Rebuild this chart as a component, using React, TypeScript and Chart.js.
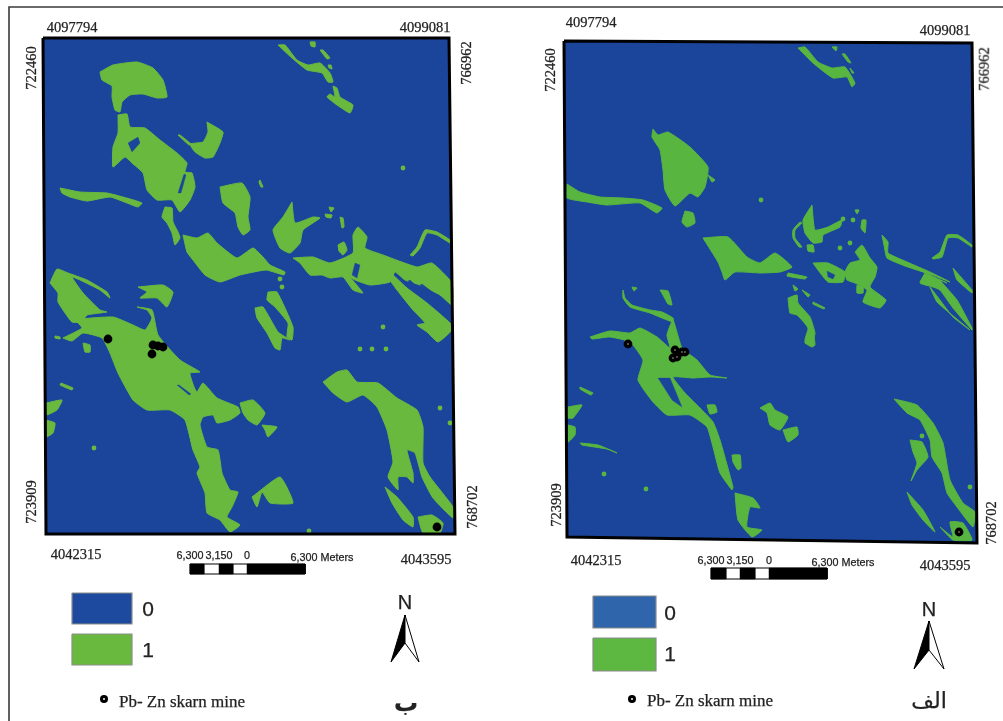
import React, { useEffect, useRef } from "react";
import { Chart, registerables } from "chart.js";

Chart.register(...registerables);

type P = [number, number];

const BLUE = "#1b459b";
const GREEN = "#6ab93f";
const GREEN_R = "#58b540";

const pageBorder: P[] = [[1003, 7], [9, 7], [9, 721]];

const leftFrame: P[] = [[43, 38], [449, 38], [455, 534], [46, 534]];
const rightFrame: P[] = [[564, 41], [972, 43], [977, 543], [567, 537]];

const leftLand: P[][] = [
  [[100, 72], [113, 65], [137, 62], [153, 68], [163, 80], [167, 97], [157, 98], [143, 94], [130, 95], [122, 102], [120, 112], [115, 110], [112, 97], [112, 86], [102, 80]],
  [[118, 115], [127, 114], [130, 127], [145, 128], [160, 140], [177, 153], [187, 163], [185, 172], [192, 173], [195, 187], [190, 200], [180, 212], [172, 200], [157, 200], [147, 190], [143, 173], [132, 163], [125, 157], [113, 167], [113, 147], [118, 133]],
  [[207, 122], [223, 132], [220, 143], [213, 157], [205, 158], [195, 152], [190, 144], [203, 142], [208, 132]],
  [[178, 135], [180, 135], [191, 144], [189, 145]],
  [[60, 188], [80, 192], [107, 193], [123, 197], [142, 203], [138, 207], [127, 203], [110, 197], [87, 201], [70, 197], [62, 193]],
  [[220, 187], [242, 183], [250, 197], [248, 217], [250, 230], [243, 235], [238, 227], [235, 213], [223, 203]],
  [[260, 180], [263, 187], [261, 187], [259, 182]],
  [[165, 207], [172, 208], [173, 222], [178, 232], [180, 238], [175, 245], [172, 233], [167, 223], [162, 217]],
  [[183, 235], [197, 238], [208, 233], [217, 243], [237, 258], [253, 248], [263, 257], [270, 265], [285, 272], [284, 275], [266, 270], [240, 275], [220, 282], [205, 275], [193, 260], [187, 252]],
  [[278, 45], [285, 45], [297, 60], [308, 65], [320, 63], [330, 73], [333, 82], [328, 82], [322, 73], [307, 70], [292, 58]],
  [[310, 42], [315, 42], [315, 47], [311, 46]],
  [[320, 50], [323, 50], [330, 58], [327, 59]],
  [[328, 65], [331, 65], [332, 69], [329, 68]],
  [[333, 86], [337, 88], [340, 97], [353, 105], [350, 113], [337, 105], [327, 97], [330, 94], [335, 97]],
  [[292, 202], [295, 223], [313, 217], [320, 218], [303, 230], [300, 243], [290, 253], [280, 248], [273, 230], [283, 217]],
  [[329, 207], [334, 208], [331, 212]],
  [[325, 214], [332, 215], [331, 218], [326, 217]],
  [[340, 217], [343, 218], [344, 227], [342, 228]],
  [[338, 245], [344, 242], [347, 250], [343, 255], [339, 251]],
  [[293, 258], [313, 257], [330, 263], [353, 253], [353, 235], [358, 227], [367, 237], [365, 248], [383, 255], [417, 267], [432, 263], [452, 283], [452, 305], [440, 295], [420, 285], [405, 280], [395, 272], [390, 282], [370, 285], [355, 280], [350, 277], [363, 293], [353, 290], [343, 277], [330, 278], [322, 275], [310, 275], [300, 263]],
  [[390, 272], [407, 288], [427, 303], [450, 323], [452, 330], [438, 342], [427, 332], [417, 325], [425, 323], [413, 310], [397, 290], [388, 277]],
  [[410, 255], [417, 247], [425, 230], [437, 232], [450, 240], [450, 243], [437, 235], [427, 233], [420, 248], [413, 256]],
  [[50, 283], [57, 269], [68, 273], [87, 280], [107, 292], [110, 298], [100, 290], [80, 280], [72, 277], [83, 293], [100, 310], [107, 312], [87, 315], [82, 322], [72, 322], [58, 302], [58, 293]],
  [[63, 338], [82, 328], [76, 320], [113, 317], [133, 325], [145, 330], [152, 318], [147, 310], [137, 307], [152, 310], [158, 335], [180, 360], [200, 372], [190, 373], [194, 387], [197, 392], [203, 383], [217, 398], [238, 407], [240, 413], [230, 420], [217, 423], [213, 415], [203, 417], [200, 425], [207, 447], [218, 450], [222, 473], [230, 490], [238, 492], [232, 507], [227, 517], [240, 525], [230, 532], [220, 520], [207, 513], [205, 493], [197, 473], [200, 467], [193, 450], [185, 420], [170, 410], [147, 410], [133, 400], [118, 373], [110, 353], [102, 338], [83, 333], [72, 341]],
  [[138, 287], [163, 285], [173, 292], [167, 307], [157, 298], [140, 298], [147, 292]],
  [[240, 403], [253, 400], [265, 413], [257, 425], [248, 420], [243, 413]],
  [[262, 425], [277, 427], [268, 437], [265, 430]],
  [[46, 403], [62, 400], [57, 410], [46, 415]],
  [[46, 420], [55, 423], [53, 433], [46, 437]],
  [[61, 383], [73, 388], [72, 390], [60, 385]],
  [[83, 343], [90, 345], [90, 352], [85, 352]],
  [[55, 336], [60, 337], [60, 339], [55, 338]],
  [[255, 308], [263, 307], [278, 332], [290, 340], [282, 338], [280, 350], [275, 348], [267, 333], [257, 318]],
  [[268, 292], [277, 292], [293, 327], [292, 340], [287, 337], [288, 323], [275, 307], [267, 300]],
  [[323, 382], [337, 372], [347, 370], [357, 382], [378, 383], [397, 398], [417, 410], [423, 427], [423, 463], [430, 477], [453, 507], [453, 518], [433, 498], [422, 477], [415, 453], [407, 450], [413, 473], [413, 483], [407, 477], [398, 477], [398, 490], [388, 477], [393, 462], [387, 430], [377, 407], [363, 395], [347, 402], [333, 393]],
  [[385, 487], [397, 497], [413, 517], [413, 527], [403, 520], [392, 503]],
  [[418, 517], [432, 515], [443, 523], [440, 533], [423, 533]],
  [[252, 497], [280, 477], [293, 503], [270, 503], [262, 492], [257, 507]],
];

const leftHoles: P[][] = [
  [[128, 143], [138, 137], [140, 143], [132, 152]],
  [[184, 174], [186, 175], [181, 193], [178, 193]],
  [[177, 385], [179, 385], [191, 394], [189, 395]],
  [[408, 281], [410, 280], [451, 318], [451, 321]],
  [[420, 285], [422, 284], [451, 306], [451, 309]],
  [[355, 263], [360, 265], [357, 278], [352, 275]],
];

const leftDots: P[] = [[403, 168], [383, 327], [360, 349], [372, 349], [386, 349], [280, 279], [282, 287], [309, 531], [440, 408], [450, 423], [94, 448]];
const leftMines: P[] = [[108, 339], [153, 345], [158, 346], [163, 347], [152, 354], [437, 527]];
const rightLand: P[][] = [
  [[653, 129], [658, 135], [668, 132], [690, 147], [708, 167], [705, 187], [698, 197], [690, 193], [675, 206], [665, 190], [663, 170], [660, 150], [652, 137]],
  [[708, 175], [715, 180], [712, 182]],
  [[567, 184], [580, 192], [600, 197], [623, 198], [643, 200], [662, 208], [657, 213], [640, 203], [607, 205], [587, 202], [567, 198]],
  [[685, 211], [693, 213], [695, 223], [687, 227], [682, 222]],
  [[703, 238], [728, 237], [747, 257], [760, 263], [775, 253], [792, 267], [780, 272], [760, 273], [735, 272], [725, 280], [722, 272], [718, 262]],
  [[788, 273], [807, 277], [805, 279], [787, 276]],
  [[798, 48], [805, 47], [818, 62], [832, 68], [845, 67], [855, 83], [852, 87], [847, 77], [833, 78], [813, 63]],
  [[832, 47], [837, 47], [836, 51]],
  [[842, 54], [845, 54], [851, 63], [848, 62]],
  [[850, 68], [854, 73], [852, 73]],
  [[812, 205], [815, 230], [828, 227], [842, 220], [840, 227], [823, 235], [822, 242], [813, 243], [805, 233], [803, 220]],
  [[802, 223], [795, 230], [795, 238], [802, 247], [799, 247], [793, 238], [793, 230], [800, 222]],
  [[807, 245], [813, 245], [814, 252], [808, 251]],
  [[855, 210], [859, 210], [857, 214]],
  [[862, 220], [866, 220], [865, 233], [861, 228]],
  [[855, 252], [862, 245], [870, 258], [877, 267], [875, 277], [870, 287], [886, 300], [880, 308], [863, 302], [867, 290], [855, 283], [847, 280], [845, 272], [850, 263], [860, 260]],
  [[857, 285], [863, 287], [863, 293], [857, 293]],
  [[813, 263], [828, 263], [845, 272], [843, 282], [828, 282], [818, 270]],
  [[882, 235], [888, 242], [888, 253], [907, 262], [930, 272], [950, 282], [932, 275], [905, 266], [887, 258], [884, 245]],
  [[932, 258], [940, 252], [947, 235], [958, 235], [972, 245], [972, 247], [958, 238], [948, 238], [942, 257], [933, 259]],
  [[953, 268], [972, 290], [972, 293], [957, 280]],
  [[925, 273], [947, 283], [940, 280], [957, 300], [972, 328], [972, 330], [953, 308], [940, 290], [933, 287], [920, 283]],
  [[930, 287], [940, 300], [953, 317], [970, 330], [952, 315], [937, 302]],
  [[793, 285], [798, 289], [795, 291]],
  [[802, 290], [810, 295], [808, 297]],
  [[813, 302], [825, 308], [824, 309], [813, 304]],
  [[788, 298], [797, 295], [798, 303], [810, 317], [815, 333], [813, 340], [805, 340], [808, 328], [797, 315], [790, 313]],
  [[805, 340], [813, 333], [815, 345], [812, 347], [805, 343]],
  [[590, 337], [610, 331], [630, 333], [640, 328], [657, 337], [670, 348], [667, 335], [673, 320], [682, 348], [697, 360], [710, 375], [727, 378], [710, 377], [693, 378], [673, 377], [685, 393], [700, 408], [713, 422], [720, 440], [733, 487], [732, 490], [720, 473], [713, 447], [707, 427], [690, 415], [667, 415], [653, 402], [638, 380], [643, 360], [630, 342], [610, 337], [592, 339]],
  [[623, 290], [625, 298], [632, 305], [650, 310], [662, 312], [673, 318], [673, 322], [662, 318], [650, 313], [630, 307], [623, 298]],
  [[660, 290], [668, 291], [672, 305], [668, 304], [663, 295]],
  [[632, 287], [637, 288], [634, 291]],
  [[735, 493], [753, 498], [760, 508], [750, 507], [747, 527], [762, 530], [752, 537], [738, 520]],
  [[732, 455], [740, 455], [741, 468], [738, 470], [733, 462]],
  [[707, 405], [715, 405], [717, 412], [710, 414]],
  [[568, 407], [582, 405], [573, 418], [568, 418]],
  [[568, 425], [575, 427], [575, 435], [568, 442]],
  [[580, 387], [593, 393], [591, 395], [580, 389]],
  [[580, 443], [598, 445], [617, 453], [607, 449], [582, 445]],
  [[760, 408], [770, 403], [775, 410], [788, 417], [780, 430], [770, 425], [767, 413]],
  [[783, 430], [797, 427], [798, 435], [788, 442]],
  [[894, 399], [917, 405], [933, 423], [943, 443], [950, 480], [963, 503], [975, 512], [973, 527], [957, 507], [947, 493], [942, 473], [932, 457], [930, 440], [920, 420], [907, 413]],
  [[910, 440], [922, 442], [928, 457], [917, 470], [911, 481], [917, 463], [913, 452]],
  [[907, 492], [923, 510], [935, 532], [923, 520], [912, 505]],
  [[940, 527], [953, 537], [950, 522], [963, 523], [972, 540], [953, 540]],
];

const rightHoles: P[][] = [
  [[658, 378], [670, 378], [682, 407], [672, 400]],
  [[827, 271], [835, 275], [833, 279], [828, 277]],
];

const rightDots: P[] = [[761, 200], [604, 474], [646, 489], [922, 436], [970, 487], [843, 219], [853, 220], [840, 248], [850, 243]];
const rightMines: P[] = [[628, 344], [675, 350], [682, 352], [685, 352], [673, 358], [677, 357], [959, 532]];

const legendLeftZero: P[] = [[72, 593], [132, 593], [132, 624], [72, 624]];
const legendLeftOne: P[] = [[72, 634], [132, 634], [132, 665], [72, 665]];
const legendRightZero: P[] = [[593, 596], [656, 596], [656, 628], [593, 628]];
const legendRightOne: P[] = [[593, 638], [656, 638], [656, 671], [593, 671]];
const legendMarkers: P[] = [[104, 699], [632, 699]];

const arrowLeftDark: P[] = [[405, 615], [405, 643], [391, 662]];
const arrowLeftLight: P[] = [[405, 615], [419, 662], [405, 643]];
const arrowRightDark: P[] = [[929, 621], [929, 650], [914, 669]];
const arrowRightLight: P[] = [[929, 621], [944, 669], [929, 650]];

const scaleLeftBlack: P[][] = [
  [[190, 564], [204, 564], [204, 574], [190, 574]],
  [[219, 564], [233, 564], [233, 574], [219, 574]],
  [[247, 564], [305, 564], [305, 574], [247, 574]],
];
const scaleRightBlack: P[][] = [
  [[711, 568], [726, 568], [726, 579], [711, 579]],
  [[740, 568], [755, 568], [755, 579], [740, 579]],
  [[769, 568], [827, 568], [827, 579], [769, 579]],
];
const scaleOutlines: P[][] = [
  [[190, 564], [305, 564], [305, 574], [190, 574]],
  [[711, 568], [827, 568], [827, 579], [711, 579]],
];

type Label = { t: string; x: number; y: number; s: number; f?: string; r?: boolean; b?: boolean };
const SERIF = "'Liberation Serif', serif";
const SANS = "'Liberation Sans', sans-serif";

const coordLabels: Label[] = [
  { t: "4097794", x: 72, y: 27, s: 14.5 },
  { t: "4099081", x: 425, y: 27, s: 14.5 },
  { t: "722460", x: 31, y: 68, s: 14.5, r: true },
  { t: "766962", x: 466, y: 63, s: 14.5, r: true },
  { t: "723909", x: 31, y: 502, s: 14.5, r: true },
  { t: "768702", x: 472, y: 507, s: 14.5, r: true },
  { t: "4042315", x: 76, y: 554, s: 14.5 },
  { t: "4043595", x: 426, y: 559, s: 14.5 },
  { t: "4097794", x: 591, y: 22, s: 14.5 },
  { t: "4099081", x: 945, y: 30, s: 14.5 },
  { t: "722460", x: 550, y: 70, s: 14.5, r: true },
  { t: "766962", x: 984, y: 69, s: 14.5, r: true },
  { t: "723909", x: 556, y: 505, s: 14.5, r: true },
  { t: "768702", x: 991, y: 523, s: 14.5, r: true },
  { t: "4042315", x: 596, y: 560, s: 14.5 },
  { t: "4043595", x: 945, y: 565, s: 14.5 },
];
const scaleLabels: Label[] = [
  { t: "6,300", x: 190, y: 555, s: 10.8, f: SANS },
  { t: "3,150", x: 219, y: 555, s: 10.8, f: SANS },
  { t: "0", x: 247, y: 555, s: 10.8, f: SANS },
  { t: "6,300 Meters", x: 322, y: 557, s: 10.8, f: SANS },
  { t: "6,300", x: 711, y: 560, s: 10.8, f: SANS },
  { t: "3,150", x: 740, y: 560, s: 10.8, f: SANS },
  { t: "0", x: 769, y: 560, s: 10.8, f: SANS },
  { t: "6,300 Meters", x: 843, y: 562, s: 10.8, f: SANS },
];
const legendLabels: Label[] = [
  { t: "0", x: 148, y: 608, s: 21, f: SANS },
  { t: "1", x: 148, y: 649, s: 21, f: SANS },
  { t: "0", x: 670, y: 612, s: 21, f: SANS },
  { t: "1", x: 670, y: 653, s: 21, f: SANS },
  { t: "N", x: 405, y: 602, s: 20, f: SANS },
  { t: "N", x: 929, y: 609, s: 20, f: SANS },
  { t: "Pb- Zn skarn mine", x: 182, y: 701, s: 17 },
  { t: "Pb- Zn skarn mine", x: 710, y: 700, s: 17 },
  { t: "ب", x: 406, y: 703, s: 24, f: "'DejaVu Sans', sans-serif", b: true },
  { t: "الف", x: 929, y: 701, s: 22, f: "'DejaVu Sans', sans-serif" },
];
const labels: Label[] = [...coordLabels, ...scaleLabels, ...legendLabels];

const poly = (pts: P[], fill: string, stroke = fill, w = 0.6, tension = 0) => ({
  type: "scatter" as const,
  data: [...pts, pts[0]].map(([x, y]) => ({ x, y })),
  showLine: true,
  fill: "shape",
  backgroundColor: fill,
  borderColor: stroke,
  borderWidth: w,
  pointRadius: 0,
  tension,
  clip: false,
});

const outline = (pts: P[], closed: boolean, color: string, w: number) => ({
  type: "scatter" as const,
  data: (closed ? [...pts, pts[0]] : pts).map(([x, y]) => ({ x, y })),
  showLine: true,
  fill: false,
  borderColor: color,
  borderWidth: w,
  pointRadius: 0,
  clip: false,
});

const dots = (pts: P[], color: string, r: number) => ({
  type: "scatter" as const,
  data: pts.map(([x, y]) => ({ x, y })),
  showLine: false,
  backgroundColor: color,
  borderColor: color,
  pointRadius: r,
  pointBorderWidth: 0,
  clip: false,
});

export default function App() {
  const ref = useRef<HTMLCanvasElement>(null);

  useEffect(() => {
    if (!ref.current) return;
    const painted: any[] = [
      outline(pageBorder, false, "#3a3a3a", 1.6),
      poly(leftFrame, BLUE, BLUE, 0),
      poly(rightFrame, BLUE, BLUE, 0),
      ...leftLand.map((p) => poly(p, GREEN, GREEN, 1, 0.15)),
      ...leftHoles.map((p) => poly(p, BLUE, BLUE, 0.3)),
      dots(leftDots, GREEN, 2.4),
      ...rightLand.map((p) => poly(p, GREEN_R, GREEN_R, 1, 0.15)),
      ...rightHoles.map((p) => poly(p, BLUE, BLUE, 0.3)),
      dots(rightDots, GREEN_R, 2.4),
      outline(leftFrame, true, "#000000", 3),
      outline(rightFrame, true, "#000000", 3),
      dots(leftMines, "#000000", 4.4),
      dots(rightMines, "#000000", 4.4),
      dots(legendMarkers, "#000000", 4),
      dots(rightMines, "#d8d8a0", 0.7),
      dots(legendMarkers, "#e8e8e8", 1.1),
      poly(legendLeftZero, "#1d4a9f", "#8a8f8a", 1.2),
      poly(legendLeftOne, "#6ab93f", "#8a8f8a", 1.2),
      poly(legendRightZero, "#2f65aa", "#8a8a8a", 1.2),
      poly(legendRightOne, "#5cb840", "#8a8a8a", 1.2),
      poly(arrowLeftDark, "#000000", "#000000", 1),
      poly(arrowLeftLight, "#ffffff", "#000000", 1),
      poly(arrowRightDark, "#000000", "#000000", 1),
      poly(arrowRightLight, "#ffffff", "#000000", 1),
      ...scaleOutlines.map((p) => poly(p, "#ffffff", "#000000", 1)),
      ...scaleLeftBlack.map((p) => poly(p, "#000000", "#000000", 0.5)),
      ...scaleRightBlack.map((p) => poly(p, "#000000", "#000000", 0.5)),
    ];
    const chart = new Chart(ref.current, {
      type: "scatter",
      data: { datasets: painted.reverse() },
      options: {
        animation: false,
        responsive: false,
        layout: { padding: 0, autoPadding: false },
        plugins: { legend: { display: false }, tooltip: { enabled: false } },
        scales: {
          x: { type: "linear", min: 0, max: 1003, display: false },
          y: { type: "linear", min: 0, max: 721, reverse: true, display: false },
        },
      },
    });
    return () => chart.destroy();
  }, []);

  return (
    <div style={{ position: "fixed", left: 0, top: 0, width: 1003, height: 721, background: "#fff", overflow: "hidden", filter: "blur(0.45px)" }}>
      <canvas ref={ref} width={1003} height={721} style={{ position: "absolute", left: 0, top: 0, width: 1003, height: 721 }} />
      {labels.map((l, i) => (
        <span
          key={i}
          style={{
            position: "absolute",
            left: l.x,
            top: l.y,
            transform: `translate(-50%, -50%)${l.r ? " rotate(-90deg)" : ""}`,
            fontFamily: l.f ?? SERIF,
            fontSize: l.s,
            fontWeight: l.b ? 700 : 400,
            color: "#222",
            whiteSpace: "nowrap",
            lineHeight: 1,
            WebkitTextStroke: "0.25px #222",
          }}
        >
          {l.t}
        </span>
      ))}
    </div>
  );
}
